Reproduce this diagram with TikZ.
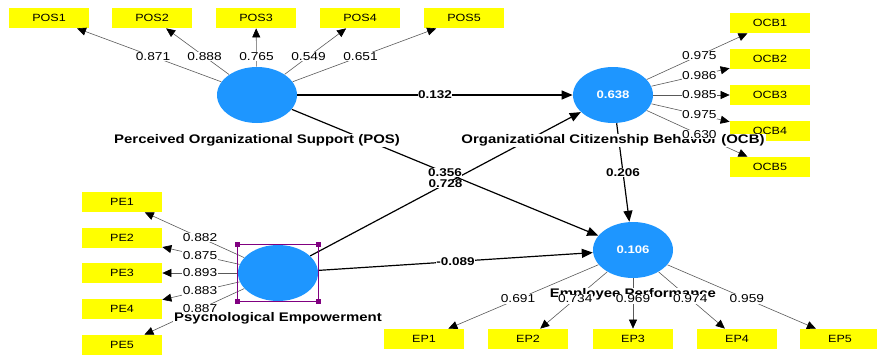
\documentclass[tikz,border=0pt]{standalone}
\usepackage{fontspec}
\setmainfont[FakeStretch=1.2]{Liberation Sans}
\usetikzlibrary{positioning,arrows.meta,shapes.geometric}

\definecolor{lvblue}{RGB}{30,150,255}
\definecolor{indyellow}{RGB}{255,255,0}
\definecolor{selpurple}{RGB}{128,0,128}

\tikzset{every picture/.style={line width=0.75pt}}
\tikzset{
  latent/.style={ellipse,fill=lvblue,minimum width=80bp,minimum height=56bp,inner sep=0pt,
    text=white,font=\fontsize{11}{13}\selectfont\bfseries},
  indicator/.style={rectangle,fill=indyellow,minimum width=80bp,minimum height=20bp,inner sep=0pt,
    font=\fontsize{10.5}{12}\selectfont},
  lvname/.style={fill=white,inner sep=1bp,font=\fontsize{12.5}{14}\selectfont\bfseries},
  loading/.style={draw=black!65,line width=0.6pt,-{Triangle[length=9bp,width=8bp,black]}},
  loadlabel/.style={fill=white,inner sep=0.5bp,font=\fontsize{11.5}{13}\selectfont},
  structural/.style={draw=black,line width=1.2pt,-{Triangle[length=11bp,width=9bp]}},
  coef/.style={fill=white,inner sep=0.5bp,font=\fontsize{11.3}{13}\selectfont\bfseries},
  handle/.style={fill=selpurple,minimum size=5bp,inner sep=0pt}
}

\begin{document}
\begin{tikzpicture}[x=1bp,y=-1bp]
\useasboundingbox (0,0) rectangle (877,356);

% constructs
\node[latent] (POS) at (257,95) {};
\node[latent] (OCB) at (613,95) {0.638};
\node[latent] (PE) at (278,273) {};
\node[latent] (EP) at (633,250) {0.106};

% indicators
\foreach \i/\x in {1/49,2/152,3/256,4/360,5/464}
  \node[indicator] (POS\i) at (\x,18) {POS\i};
\foreach \i/\y in {1/23,2/59,3/95,4/131,5/167}
  \node[indicator] (OCB\i) at (770,\y) {OCB\i};
\foreach \i/\y in {1/202,2/238,3/273,4/309,5/345}
  \node[indicator] (PE\i) at (122,\y) {PE\i};
\foreach \i/\x in {1/424,2/528,3/633,4/737,5/840}
  \node[indicator] (EP\i) at (\x,339) {EP\i};

% outer loadings
\foreach \i in {1,...,5}{
  \draw[loading] (POS) -- (POS\i);
  \draw[loading] (OCB) -- (OCB\i);
  \draw[loading] (PE) -- (PE\i);
  \draw[loading] (EP) -- (EP\i);
}

% inner model
\draw[structural] (POS) -- (OCB);
\draw[structural] (POS) -- (EP);
\draw[structural] (PE) -- (OCB);
\draw[structural] (PE) -- (EP);
\draw[structural] (OCB) -- (EP);

% selection frame round PE
\draw[selpurple,line width=0.6pt] (PE.west |- PE.north) rectangle (PE.east |- PE.south);
\foreach \v in {north,south}
  \foreach \h in {west,east}
    \node[handle] (PE-\v\h) at (PE.\h |- PE.\v) {};

% construct names
\node[lvname,below=10bp of POS] (POSname) {Perceived Organizational Support (POS)};
\node[lvname,below=10bp of OCB] (OCBname) {Organizational Citizenship Behavior (OCB)};
\node[lvname,below=10bp of PE] (PEname) {Psychological Empowerment};
\node[lvname,below=9bp of EP] (EPname) {Employee Performance};

% loading values
\foreach \i/\v in {1/0.871,2/0.888,3/0.765,4/0.549,5/0.651}
  \path (POS.center) -- (POS\i.center) node[loadlabel,midway] (lPOS\i) {\v};
\foreach \i/\v in {1/0.975,2/0.986,3/0.985,4/0.975,5/0.630}
  \path (OCB.center) -- (OCB\i.center) node[loadlabel,pos=0.55] (lOCB\i) {\v};
\foreach \i/\v in {1/0.882,2/0.875,3/0.893,4/0.883,5/0.887}
  \path (PE.center) -- (PE\i.center) node[loadlabel,midway] (lPE\i) {\v};
\foreach \i/\v in {1/0.691,2/0.734,3/0.969,4/0.974,5/0.959}
  \path (EP.center) -- (EP\i.center) node[loadlabel,pos=0.55] (lEP\i) {\v};

% path coefficients
\path (POS) -- (OCB) node[coef,midway] (cPOSOCB) {0.132};
\path (POS.center) -- (EP.center) node[coef,midway] (cPOSEP) {0.356};
\path (PE.center) -- (OCB.center) node[coef,midway] (cPEOCB) {0.728};
\path (PE.center) -- (EP.center) node[coef,midway] (cPEEP) {-0.089};
\path (OCB.center) -- (EP.center) node[coef,midway] (cOCBEP) {0.206};
\end{tikzpicture}
\end{document}
